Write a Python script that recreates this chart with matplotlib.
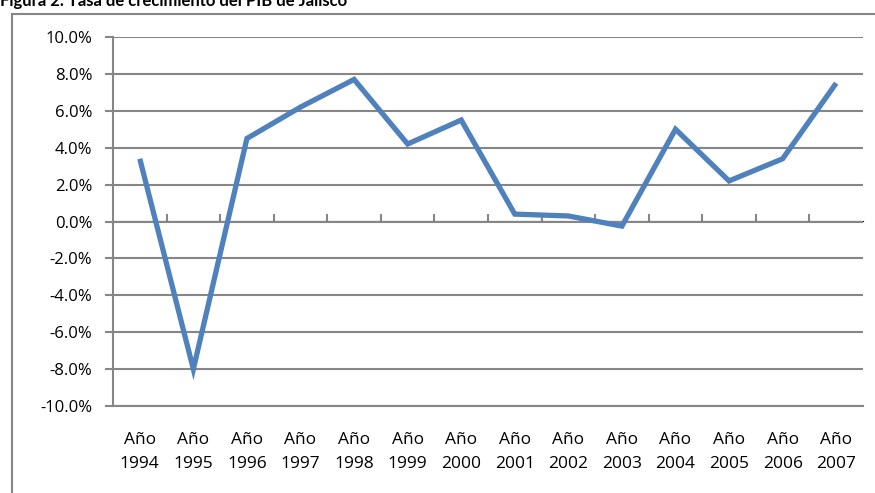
import matplotlib.pyplot as plt
from matplotlib.patches import Rectangle
import numpy as np

years = ["1994", "1995", "1996", "1997", "1998", "1999", "2000",
         "2001", "2002", "2003", "2004", "2005", "2006", "2007"]
growth = [3.4, -8.0, 4.5, 6.2, 7.7, 4.2, 5.5, 0.4, 0.3, -0.25, 5.0, 2.2, 3.4, 7.5]
yticks = [-10, -8, -6, -4, -2, 0, 2, 4, 6, 8, 10]

plt.rcParams['font.family'] = ['Open Sans', 'DejaVu Sans']
grid_col = '#868686'

fig = plt.figure(figsize=(8.75, 4.93), dpi=100)
fig.patches.append(Rectangle((12 / 875, -0.1), 1.0, 1 - 14 / 493 + 0.1,
                             transform=fig.transFigure, fill=False,
                             edgecolor=grid_col, linewidth=1.5))
fig.text(0.0, 1.0 - 6 / 493, "Figura 2. Tasa de crecimiento del PIB de Jalisco",
         fontsize=12, fontweight='bold', ha='left', va='baseline',
         family=['Lato', 'DejaVu Sans'])

ax = fig.add_axes([113 / 875, 1 - 406 / 493, 750 / 875, 369 / 493])
x = np.arange(len(years))
ax.plot(x, growth, color='#4F81BD', linewidth=3.8, solid_capstyle='butt',
        solid_joinstyle='miter', zorder=3)

ax.set_xlim(-0.5, len(years) - 0.5)
ax.set_ylim(-10, 10)
ax.set_yticks(yticks)
ax.set_yticklabels(["%.1f%%" % v for v in yticks], fontsize=12)
for v in yticks:
    ax.axhline(v, color=grid_col, linewidth=1.5, zorder=1)

ax.set_xticks(x)
ax.set_xticklabels(["Año\n" + y for y in years], fontsize=12.5, linespacing=1.6)
ax.tick_params(axis='x', length=0, pad=19)
ax.tick_params(axis='y', length=6, width=1.5, color=grid_col, pad=9)

for side in ['top', 'right']:
    ax.spines[side].set_visible(False)
ax.spines['left'].set_color(grid_col)
ax.spines['left'].set_linewidth(1.5)
ax.spines['bottom'].set_color(grid_col)
ax.spines['bottom'].set_linewidth(1.5)

# category boundary ticks on the zero line
sec = ax.secondary_xaxis(0.5)
sec.set_xticks(x[:-1] + 0.5)
sec.set_xticklabels([])
sec.tick_params(length=5, width=1.5, color=grid_col, direction='out')
sec.spines['bottom'].set_visible(False)

plt.savefig("out.png", dpi=100)
